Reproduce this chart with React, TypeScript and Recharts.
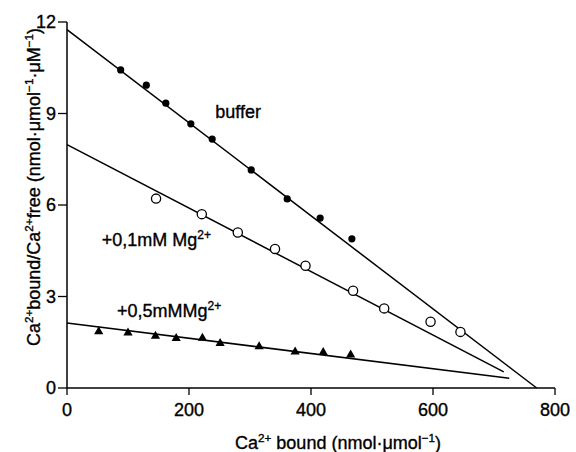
import { ScatterChart, Scatter, XAxis, YAxis, ReferenceDot } from 'recharts';

// Scatchard plot: Ca2+ bound vs bound/free, three conditions
const bufferX = [88, 130, 162, 203, 238, 302, 361, 415, 467];
const bufferY = [10.43, 9.93, 9.34, 8.66, 8.16, 7.15, 6.2, 5.57, 4.89];

const mg01X = [146, 221, 280, 341, 391, 469, 520, 596, 645];
const mg01Y = [6.21, 5.7, 5.1, 4.56, 4.01, 3.19, 2.61, 2.17, 1.84];

const mg05X = [52, 100, 145, 179, 222, 251, 315, 374, 420, 465];
const mg05Y = [1.87, 1.83, 1.73, 1.65, 1.66, 1.49, 1.38, 1.21, 1.19, 1.11];

// fitted lines: [x, y] endpoints
const bufferFit: [number, number][] = [[0, 11.75], [770, 0]];
const mg01Fit: [number, number][] = [[0, 7.98], [716, 0.53]];
const mg05Fit: [number, number][] = [[0, 2.13], [725, 0.32]];

const xTicks = [0, 200, 400, 600, 800];
const yTicks = [0, 3, 6, 9, 12];

const FONT = '"Liberation Sans", Arial, Helvetica, sans-serif';
const HEAVY = { stroke: '#000', strokeWidth: 0.35 };

const toPts = (xs: number[], ys: number[]) => xs.map((x, i) => ({ x, y: ys[i] }));
const fitPts = (f: [number, number][]) => f.map(([x, y]) => ({ x, y }));

const Filled = ({ cx, cy }: any) => <circle cx={cx} cy={cy} r={3.6} fill="#000" />;
const Open = ({ cx, cy }: any) => (
  <circle cx={cx} cy={cy} r={4.6} fill="#fff" stroke="#000" strokeWidth={1.3} />
);
const Tri = ({ cx, cy }: any) => (
  <polygon
    points={`${cx},${cy - 4.6} ${cx + 4.6},${cy + 3.4} ${cx - 4.6},${cy + 3.4}`}
    fill="#000"
  />
);
const Nothing = () => <g />;

const Sup = ({ children, fs }: { children: string; fs: number }) => (
  <tspan fontSize={fs * 0.65} dy={-fs * 0.4}>{children}</tspan>
);

const seriesLabel = (main: string, sup?: string) => ({ cx, cy }: any) => (
  <text x={cx} y={cy} fontSize={18} fontFamily={FONT} fill="#000" {...HEAVY}>
    {main}
    {sup && <tspan fontSize={12} dy={-7}>{sup}</tspan>}
  </text>
);

const XLabel = () => (
  <text x={235} y={449} fontSize={18} fontFamily={FONT} fill="#000" {...HEAVY}>
    Ca<Sup fs={18}>2+</Sup>
    <tspan dy={7.2}> bound (nmol·μmol</tspan>
    <Sup fs={18}>−1</Sup>
    <tspan dy={7.2}>)</tspan>
  </text>
);

const YLabel = () => (
  <text
    x={40}
    y={187}
    transform="rotate(-90, 40, 187)"
    textAnchor="middle"
    fontSize={18}
    fontFamily={FONT}
    fill="#000"
    {...HEAVY}
  >
    Ca<Sup fs={18}>2+</Sup>
    <tspan dy={7.2}>bound/Ca</tspan>
    <Sup fs={18}>2+</Sup>
    <tspan dy={7.2}>free (nmol·μmol</tspan>
    <Sup fs={18}>−1</Sup>
    <tspan dy={7.2}>·μM</tspan>
    <Sup fs={18}>−1</Sup>
    <tspan dy={7.2}>)</tspan>
  </text>
);

export default function App() {
  const tick = { fill: '#000', fontSize: 18, fontFamily: FONT, ...HEAVY };
  const axisLine = { stroke: '#000', strokeWidth: 1.5 };
  const tickLine = { stroke: '#000', strokeWidth: 1.3 };
  const fitLine = { stroke: '#000', strokeWidth: 1.5 };
  return (
    <div style={{ position: 'absolute', left: 0, top: 0, background: '#fff' }}>
      <ScatterChart width={576} height={452} margin={{ top: 22, right: 21, bottom: 24, left: 7 }}>
        <XAxis
          type="number"
          dataKey="x"
          domain={[0, 800]}
          ticks={xTicks}
          tick={tick}
          axisLine={axisLine}
          tickLine={tickLine}
          tickSize={7}
          tickMargin={8}
          height={40}
          label={{ content: () => <XLabel /> }}
        />
        <YAxis
          type="number"
          dataKey="y"
          domain={[0, 12]}
          ticks={yTicks}
          tick={tick}
          axisLine={axisLine}
          tickLine={tickLine}
          tickSize={9}
          tickMargin={2}
          width={60}
          label={{ content: () => <YLabel /> }}
        />
        <Scatter data={fitPts(bufferFit)} line={fitLine} shape={Nothing} isAnimationActive={false} />
        <Scatter data={fitPts(mg01Fit)} line={fitLine} shape={Nothing} isAnimationActive={false} />
        <Scatter data={fitPts(mg05Fit)} line={fitLine} shape={Nothing} isAnimationActive={false} />
        <Scatter data={toPts(bufferX, bufferY)} shape={Filled} isAnimationActive={false} />
        <Scatter data={toPts(mg01X, mg01Y)} shape={Open} isAnimationActive={false} />
        <Scatter data={toPts(mg05X, mg05Y)} shape={Tri} isAnimationActive={false} />
        <ReferenceDot x={243} y={8.85} r={0} shape={seriesLabel('buffer')} />
        <ReferenceDot x={57} y={4.65} r={0} shape={seriesLabel('+0,1mM Mg', '2+')} />
        <ReferenceDot x={82} y={2.33} r={0} shape={seriesLabel('+0,5mMMg', '2+')} />
      </ScatterChart>
    </div>
  );
}
